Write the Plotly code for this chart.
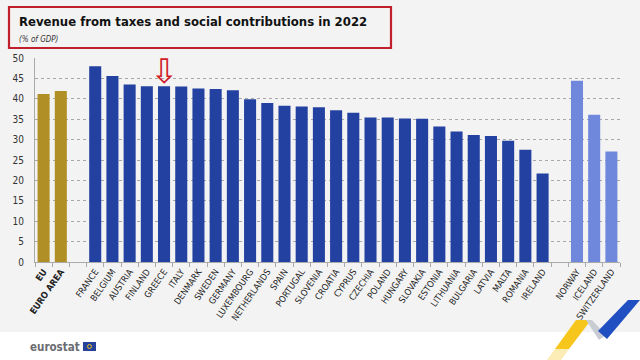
import plotly.graph_objects as go

# ---- data ----
aggregates = ["EU", "EURO AREA"]
agg_values = [41.2, 41.9]

eu_countries = ["FRANCE", "BELGIUM", "AUSTRIA", "FINLAND", "GREECE", "ITALY", "DENMARK",
                "SWEDEN", "GERMANY", "LUXEMBOURG", "NETHERLANDS", "SPAIN", "PORTUGAL",
                "SLOVENIA", "CROATIA", "CYPRUS", "CZECHIA", "POLAND", "HUNGARY", "SLOVAKIA",
                "ESTONIA", "LITHUANIA", "BULGARIA", "LATVIA", "MALTA", "ROMANIA", "IRELAND"]
eu_values = [48.0, 45.6, 43.5, 43.1, 43.1, 43.0, 42.5,
             42.4, 42.1, 39.9, 39.0, 38.3, 38.1,
             37.9, 37.2, 36.6, 35.4, 35.4, 35.2, 35.1,
             33.2, 32.0, 31.1, 30.9, 29.7, 27.5, 21.7]

efta = ["NORWAY", "ICELAND", "SWITZERLAND"]
efta_values = [44.4, 36.1, 27.1]

y_ticks = [0, 5, 10, 15, 20, 25, 30, 35, 40, 45, 50]

# ---- styling ----
GOLD = "#b08f26"
BLUE = "#2341a0"
LIGHT = "#6f88dc"
BG = "#f3f3f3"
FONT = "DejaVu Sans Condensed, sans-serif"

gap1, gap2 = " ", "  "
cats = aggregates + [gap1] + eu_countries + [gap2] + efta
vals = agg_values + [None] + eu_values + [None] + efta_values
cols = [GOLD] * len(aggregates) + [BG] + [BLUE] * len(eu_countries) + [BG] + [LIGHT] * len(efta)
ticktext = [f"<b>{c}</b>" for c in aggregates] + [""] + eu_countries + [""] + efta

W, H = 640, 360
L, R, T, B = 35, 20, 58, 98
pw, ph = W - L - R, H - T - B


def px(x):
    return (x - L) / pw


def py(y):
    return (H - B - y) / ph


fig = go.Figure(go.Bar(
    x=cats, y=vals, marker=dict(color=cols, line=dict(width=0)),
    width=0.7, hoverinfo="x+y",
))

shapes = []
# white footer strip
shapes.append(dict(type="rect", xref="paper", yref="paper", x0=px(0), x1=px(W),
                   y0=py(H), y1=py(332), fillcolor="white", line=dict(width=0), layer="below"))
# title box
shapes.append(dict(type="rect", xref="paper", yref="paper", x0=px(9), x1=px(391),
                   y0=py(48), y1=py(7), line=dict(color="#c0202a", width=2.2),
                   fillcolor="rgba(0,0,0,0)"))


def poly(points, color):
    d = "M " + " L ".join(f"{px(a):.5f},{py(b):.5f}" for a, b in points) + " Z"
    return dict(type="path", xref="paper", yref="paper", path=d,
                fillcolor=color, line=dict(width=0))


# decorative ribbons
shapes.append(poly([(544, 364), (555, 349), (569, 349), (558, 364)], "#fbecb5"))
shapes.append(poly([(555, 349), (576, 320), (591, 320), (569, 349)], "#f6c61c"))
shapes.append(poly([(586, 320), (592, 320), (606, 335), (599, 340)], "#c9ccd3"))
shapes.append(poly([(598, 331), (628, 300), (640, 300), (607, 339)], "#1f4fc0"))
# eurostat flag
shapes.append(dict(type="rect", xref="paper", yref="paper", x0=px(83), x1=px(96),
                   y0=py(351), y1=py(342), fillcolor="#27429b", line=dict(width=0)))
shapes.append(dict(type="circle", xref="paper", yref="paper", x0=px(87.5), x1=px(91.5),
                   y0=py(348.5), y1=py(344.5), line=dict(color="#f0c419", width=1),
                   fillcolor="rgba(0,0,0,0)"))

annotations = [
    dict(text="Revenue from taxes and social contributions in 2022", xref="paper", yref="paper",
         x=px(17), y=py(22), xanchor="left", yanchor="middle", showarrow=False,
         font=dict(family="DejaVu Sans Condensed", size=13, color="#111111", weight="bold")),
    dict(text="<i>(% of GDP)</i>", xref="paper", yref="paper",
         x=px(17), y=py(39), xanchor="left", yanchor="middle", showarrow=False,
         font=dict(family=FONT, size=8, color="#333333")),
    dict(text="<b>eurostat</b>", xref="paper", yref="paper",
         x=px(82), y=py(346.5), xanchor="right", yanchor="middle", showarrow=False,
         font=dict(family="DejaVu Sans Condensed, sans-serif", size=11.5, color="#6b6c72")),
    dict(text="⇩", x="GREECE", y=46.8, xref="x", yref="y", showarrow=False,
         xanchor="center", yanchor="middle",
         font=dict(family="DejaVu Sans", size=34, color="#d0202a")),
]

fig.update_layout(
    width=W, height=H,
    margin=dict(l=L, r=R, t=T, b=B, autoexpand=False),
    paper_bgcolor=BG, plot_bgcolor=BG,
    showlegend=False,
    font=dict(family=FONT, color="#333333"),
    shapes=shapes, annotations=annotations,
    bargap=0.3,
)
fig.update_xaxes(
    type="category", categoryorder="array", categoryarray=cats,
    tickvals=cats, ticktext=ticktext, tickangle=-55,
    tickfont=dict(family=FONT, size=9, color="#222222"),
    ticks="outside", tickson="boundaries", ticklen=4, tickcolor="#aaaaaa",
    showline=True, linecolor="#aaaaaa", linewidth=1, showgrid=False,
    range=[-0.5, len(cats) - 0.5], automargin=False,
)
fig.update_yaxes(
    range=[0, 50], tickvals=y_ticks,
    tickfont=dict(family=FONT, size=10, color="#333333"),
    showgrid=True, gridcolor="#a8a8a8", griddash="dot", gridwidth=1,
    showline=True, linecolor="#aaaaaa", linewidth=1, zeroline=False,
    ticks="", ticklabelstandoff=8, automargin=False,
)

fig.write_html("out.html", config={"displayModeBar": False},
               post_script="document.body.style.margin='0';document.body.style.overflow='hidden';")
